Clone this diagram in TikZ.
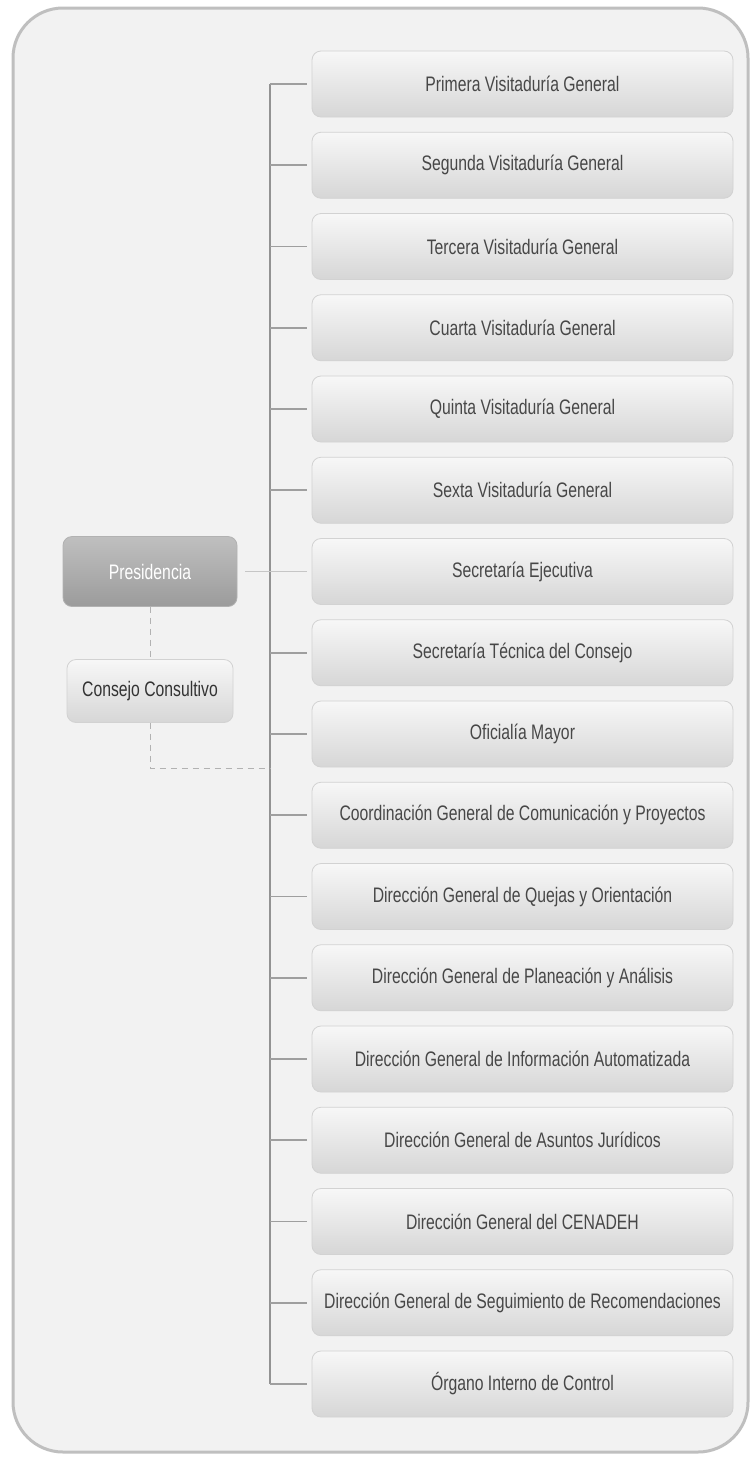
\documentclass[tikz,border=0pt]{standalone}
\usepackage{fontspec}
\setmainfont{Liberation Sans}
\newfontfamily\condfont[FakeStretch=0.75]{Liberation Sans}
\begin{document}
\begin{tikzpicture}[x=1pt,y=-1pt,
  unitbox/.style={draw=gray!35, line width=0.8pt, rounded corners=9pt,
    top color=gray!6, bottom color=gray!32, minimum width=421pt, minimum height=66pt,
    text=black!72, font=\condfont\fontsize{21}{24}\selectfont, inner sep=0pt},
  presbox/.style={draw=gray!60, line width=0.8pt, rounded corners=9pt,
    top color=gray!50, bottom color=gray!78, minimum width=174pt, minimum height=70pt,
    text=white, font=\condfont\fontsize{21}{24}\selectfont, inner sep=0pt},
  consbox/.style={draw=gray!35, line width=0.8pt, rounded corners=9pt,
    top color=gray!6, bottom color=gray!32, minimum width=166pt, minimum height=63pt,
    text=black!80, font=\condfont\fontsize{21}{24}\selectfont, inner sep=0pt},
  stub/.style={draw=gray!75, line width=1.8pt, shorten >=5pt},
  trunk/.style={draw=gray!85, line width=1.8pt},
  lightline/.style={draw=gray!45, line width=1.6pt, shorten <=8pt, shorten >=5pt},
  dashline/.style={draw=gray!60, line width=1pt, dash pattern=on 6pt off 5pt}
]
\useasboundingbox (0,0) rectangle (752,1459);
\fill[white] (0,0) rectangle (752,1459);
\draw[draw=gray!50, line width=3pt, fill=gray!10, rounded corners=50pt] (13,8) rectangle (748,1452);

\coordinate (tx) at (270,0);
\foreach \i/\t in {1/Primera Visitaduría General,
  2/Segunda Visitaduría General,
  3/Tercera Visitaduría General,
  4/Cuarta Visitaduría General,
  5/Quinta Visitaduría General,
  6/Sexta Visitaduría General,
  7/Secretaría Ejecutiva,
  8/Secretaría Técnica del Consejo,
  9/Oficialía Mayor,
  10/Coordinación General de Comunicación y Proyectos,
  11/Dirección General de Quejas y Orientación,
  12/Dirección General de Planeación y Análisis,
  13/Dirección General de Información Automatizada,
  14/Dirección General de Asuntos Jurídicos,
  15/Dirección General del CENADEH,
  16/Dirección General de Seguimiento de Recomendaciones,
  17/Órgano Interno de Control}
{
  \node[unitbox] (b\i) at (522.5, {84+(\i-1)*81.25}) {\t};
}

\node[presbox] (pres) at (150,571.5) {Presidencia};
\node[consbox] (cons) at (150,691) {Consejo Consultivo};
\coordinate (dend) at (270,768);

% trunk
\draw[trunk] (b1.west -| tx) -- (b17.west -| tx);
% stubs
\foreach \i in {1,2,3,4,5,6,8,9,10,11,12,13,14,15,16,17}{
  \draw[stub] (b\i.west -| tx) -- (b\i.west);
}
\draw[lightline] (pres.east) -- (b7.west);
\draw[dashline] (pres.south) -- (cons.north);
\draw[dashline] (cons.south) |- (dend);
\end{tikzpicture}
\end{document}
